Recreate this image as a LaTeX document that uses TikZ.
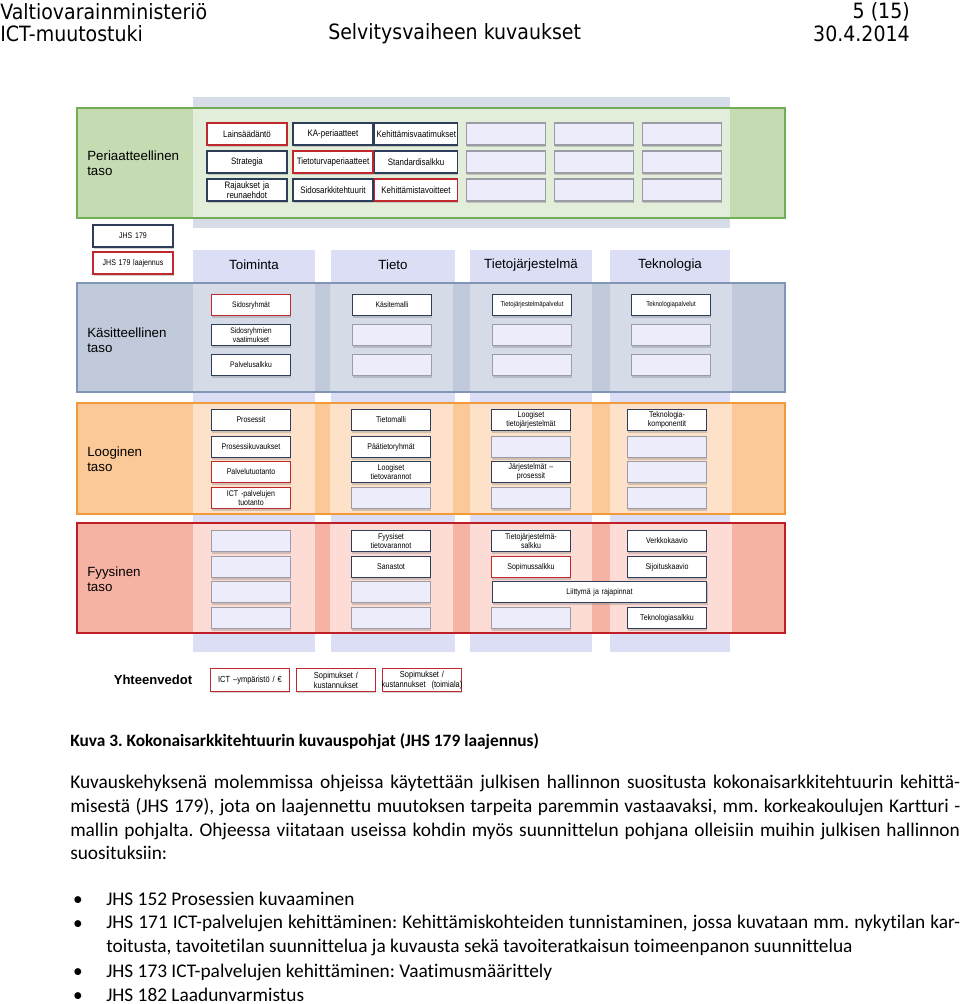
\documentclass[tikz,border=0pt]{standalone}
\usepackage{fontspec}
\setmainfont{Carlito}[Ligatures=CommonOff]
\newfontfamily\headfont[FakeStretch=0.9]{DejaVu Sans}
\newfontfamily\diafont{Liberation Sans}
\newfontfamily\boxfont[FakeStretch=0.85]{Liberation Sans}
\usetikzlibrary{shadows}
\frenchspacing

\definecolor{navyline}{HTML}{2E3D5A}
\definecolor{boxred}{HTML}{C0282D}
\definecolor{emptyfill}{HTML}{ECECFA}
\definecolor{emptyline}{HTML}{9C9CA6}
\definecolor{colfill}{HTML}{DCDEF6}
\definecolor{topband}{HTML}{D6DDE9}
\definecolor{greenline}{HTML}{72AD55}
\definecolor{greenfill}{HTML}{C5DCB3}
\definecolor{greenlight}{HTML}{E3EEDA}
\definecolor{blueline}{HTML}{8196B6}
\definecolor{bluefill}{HTML}{C0CADB}
\definecolor{bluelight}{HTML}{D5DBE7}
\definecolor{orangeline}{HTML}{F29A3A}
\definecolor{orangefill}{HTML}{FBC998}
\definecolor{orangelight}{HTML}{FDE2C9}
\definecolor{redline}{HTML}{C01E26}
\definecolor{redfill}{HTML}{F6B3A3}
\definecolor{redlight}{HTML}{FCDCD4}

\begin{document}
\begin{tikzpicture}[
    x=0.75pt,
    y=-0.75pt,
    headtext/.style={
        inner sep=0pt,
        font=\headfont\fontsize{15.8}{17}\selectfont
    },
    bodytext/.style={
        inner sep=0pt,
        font=\fontsize{14.5}{17.8}\selectfont
    },
    captext/.style={
        inner sep=0pt,
        font=\bfseries\fontsize{13}{17.8}\selectfont
    },
    rowlabel/.style={
        anchor=west,
        align=left,
        inner sep=0pt,
        font=\diafont\fontsize{10}{11.3}\selectfont
    },
    colhead/.style={
        inner sep=0pt,
        font=\diafont\fontsize{10}{12}\selectfont
    },
    tbox/.style={
        draw=navyline,
        fill=white,
        line width=0.8pt,
        text width=56pt,
        minimum height=16pt,
        inner xsep=1.5pt,
        inner ysep=0pt,
        align=center,
        font=\boxfont\fontsize{6.2}{7}\selectfont,
        drop shadow={shadow xshift=0.5pt, shadow yshift=-1.4pt, opacity=0.35}
    },
    rbox/.style={tbox, draw=boxred},
    ebox/.style={tbox, draw=emptyline, fill=emptyfill},
    pbox/.style={minimum height=16.5pt, font=\boxfont\fontsize{7}{7.6}\selectfont},
    kbox/.style={font=\boxfont\fontsize{6}{6.8}\selectfont},
    tinybox/.style={font=\boxfont\fontsize{5.3}{6}\selectfont},
    sumbox/.style={minimum height=17pt, font=\boxfont\fontsize{6.6}{7.4}\selectfont}
]

    % ==========================================
    % PAGE AND BACKGROUND
    % ==========================================

    \path[use as bounding box, fill=white] (0,0) rectangle (960,1004);

    % Header lines
    \node[headtext, anchor=west] (Ministerio) at (0,12) {Valtiovarainministeriö};
    \node[headtext, anchor=east] (PageNo) at (910,12) {5 (15)};
    \node[headtext, anchor=west] (Muutostuki) at (0,34) {ICT-muutostuki};
    \node[headtext, anchor=west] (DocTitle) at (328,34) {Selvitysvaiheen kuvaukset};
    \node[headtext, anchor=east] (DocDate) at (910,34) {30.4.2014};

    % Column strips behind the layers
    \fill[topband] (193,97) rectangle (730,228);
    \foreach \xa/\xb in {193/315, 331/455, 470/592, 610/730}
        \fill[colfill] (\xa,250) rectangle (\xb,652);

    % ==========================================
    % LAYERS
    % ==========================================

    % Periaatteellinen taso (green)
    \fill[greenfill] (77,108) rectangle (785,218);
    \fill[greenlight] (193,108) rectangle (730,218);
    \draw[greenline, line width=1.6pt] (77,108) rectangle (785,218);

    % Kasitteellinen taso (blue grey)
    \fill[bluefill] (77,283) rectangle (785,392);
    \foreach \xa/\xb in {193/315, 330/453, 470/592, 610/732}
        \fill[bluelight] (\xa,283) rectangle (\xb,392);
    \draw[blueline, line width=1.2pt] (77,283) rectangle (785,392);

    % Looginen taso (orange)
    \fill[orangefill] (77,403) rectangle (785,514);
    \foreach \xa/\xb in {193/315, 330/453, 470/592, 610/732}
        \fill[orangelight] (\xa,403) rectangle (\xb,514);
    \draw[orangeline, line width=1.6pt] (77,403) rectangle (785,514);

    % Fyysinen taso (red)
    \fill[redfill] (77,523) rectangle (785,633);
    \foreach \xa/\xb in {193/315, 330/453, 470/592, 610/732}
        \fill[redlight] (\xa,523) rectangle (\xb,633);
    \draw[redline, line width=1.6pt] (77,523) rectangle (785,633);

    % Layer labels
    \node[rowlabel] (PeriaateLabel) at (87,163) {Periaatteellinen\\taso};
    \node[rowlabel] (KasiteLabel) at (87,340) {Käsitteellinen\\taso};
    \node[rowlabel] (LoogLabel) at (87,459) {Looginen\\taso};
    \node[rowlabel] (FyysLabel) at (87,579) {Fyysinen\\taso};

    % Column headers
    \node[colhead] (Toiminta) at (254,265) {Toiminta};
    \node[colhead] (Tieto) at (393,265) {Tieto};
    \node[colhead] (Tietojarjestelma) at (531,265) {Tietojärjestelmä};
    \node[colhead] (Teknologia) at (670,265) {Teknologia};

    % ==========================================
    % BOXES
    % ==========================================

    % Periaatteellinen taso
    \node[rbox, pbox, text width=57pt] (Lainsaadanto) at (247,134) {Lainsäädäntö};
    \node[tbox, pbox, text width=57pt] (KaPeriaatteet) at (333,134) {KA-periaatteet};
    \node[tbox, pbox, text width=59pt] (KehVaatimukset) at (416,134) {Kehittämisvaatimukset};
    \node[tbox, pbox, text width=57pt] (Strategia) at (247,162) {Strategia};
    \node[rbox, pbox, text width=57pt] (TtPeriaatteet) at (333,162) {Tietoturvaperiaatteet};
    \node[tbox, pbox, text width=59pt] (Standardisalkku) at (416,162) {Standardisalkku};
    \node[tbox, pbox, text width=57pt] (Rajaukset) at (247,190) {Rajaukset ja\\reunaehdot};
    \node[tbox, pbox, text width=57pt] (Sidosarkkitehtuurit) at (333,190) {Sidosarkkitehtuurit};
    \node[rbox, pbox, text width=59pt] (KehTavoitteet) at (416,190) {Kehittämistavoitteet};
    \foreach \bx in {506,594,682}
        \foreach \by in {134,162,190}
            \node[ebox, pbox] (PEmpty-\bx-\by) at (\bx,\by) {};

    % JHS 179
    \node[tbox, text width=57pt, minimum height=16.5pt] (Jhs179) at (133,236) {JHS 179};
    \node[rbox, text width=57pt, minimum height=16.5pt] (Jhs179Ext) at (133,263) {JHS 179 laajennus};

    % Kasitteellinen taso
    \node[rbox, kbox] (Sidosryhmat) at (251,305) {Sidosryhmät};
    \node[tbox, kbox] (SidosVaatimukset) at (251,335) {Sidosryhmien\\vaatimukset};
    \node[tbox, kbox] (Palvelusalkku) at (251,365) {Palvelusalkku};
    \node[tbox, kbox] (Kasitemalli) at (392,305) {Käsitemalli};
    \node[tbox, tinybox] (TjPalvelut) at (532,305) {Tietojärjestelmäpalvelut};
    \node[tbox, tinybox] (TekPalvelut) at (671,305) {Teknologiapalvelut};
    \foreach \bx in {392,532,671}
        \foreach \by in {335,365}
            \node[ebox] (KEmpty-\bx-\by) at (\bx,\by) {};

    % Looginen taso
    \node[tbox] (Prosessit) at (251,420) {Prosessit};
    \node[tbox] (ProsKuvaukset) at (251,447) {Prosessikuvaukset};
    \node[rbox] (Palvelutuotanto) at (251,472) {Palvelutuotanto};
    \node[rbox] (IctTuotanto) at (251,498) {ICT -palvelujen\\tuotanto};
    \node[tbox] (Tietomalli) at (391,420) {Tietomalli};
    \node[tbox] (Paatietoryhmat) at (391,447) {Päätietoryhmät};
    \node[tbox] (LoogVarannot) at (391,472) {Loogiset\\tietovarannot};
    \node[tbox] (LoogJarjestelmat) at (531,420) {Loogiset\\tietojärjestelmät};
    \node[tbox] (JarjProsessit) at (531,472) {Järjestelmät –\\prosessit};
    \node[tbox] (TekKomponentit) at (667,420) {Teknologia-\\komponentit};
    \foreach \bx/\by in {391/498, 531/447, 531/498, 667/447, 667/472, 667/498}
        \node[ebox] (LEmpty-\bx-\by) at (\bx,\by) {};

    % Fyysinen taso
    \node[tbox] (FyysVarannot) at (391,541) {Fyysiset\\tietovarannot};
    \node[tbox] (Sanastot) at (391,567) {Sanastot};
    \node[tbox] (TjSalkku) at (531,541) {Tietojärjestelmä-\\salkku};
    \node[rbox] (Sopimussalkku) at (531,567) {Sopimussalkku};
    \node[tbox] (Verkkokaavio) at (667,541) {Verkkokaavio};
    \node[tbox] (Sijoituskaavio) at (667,567) {Sijoituskaavio};
    \node[tbox, text width=158pt] (Liittyma) at (599.5,592) {Liittymä ja rajapinnat};
    \node[tbox] (TekSalkku) at (667,618) {Teknologiasalkku};
    \foreach \bx/\by in {251/541, 251/567, 251/592, 251/618, 391/592, 391/618, 531/618}
        \node[ebox] (FEmpty-\bx-\by) at (\bx,\by) {};

    % Yhteenvedot
    \node[inner sep=0pt, font=\diafont\bfseries\fontsize{9.8}{12}\selectfont] (Yhteenvedot) at (153,680) {Yhteenvedot};
    \node[rbox, sumbox] (IctYmparisto) at (250,680) {ICT –ympäristö / €};
    \node[rbox, sumbox] (SopKustannukset) at (336,680) {Sopimukset /\\kustannukset};
    \node[rbox, sumbox] (SopToimiala) at (422,680) {Sopimukset /\\\makebox[56pt][c]{kustannukset~~(toimiala)}};

    % ==========================================
    % CAPTION AND TEXT
    % ==========================================

    \node[captext, anchor=base west] (Caption) at (70,746) {Kuva 3. Kokonaisarkkitehtuurin kuvauspohjat (JHS 179 laajennus)};

    \node[bodytext, anchor=north west, text width=667.5pt, align=justify] (Intro) at (70,775) {Kuvauskehyksenä molemmissa ohjeissa käytettään julkisen hallinnon suositusta kokonaisarkkitehtuurin kehittä-\linebreak misestä (JHS 179), jota on laajennettu muutoksen tarpeita paremmin vastaavaksi, mm. korkeakoulujen Kartturi -\linebreak mallin pohjalta. Ohjeessa viitataan useissa kohdin myös suunnittelun pohjana olleisiin muihin julkisen hallinnon\linebreak suosituksiin:};

    % Bullet list
    \foreach \by [count=\i] in {905, 929, 977, 1001}
        \node[bodytext, anchor=base] (Dot\i) at (78,\by) {•};
    \node[bodytext, anchor=base west] (Jhs152) at (106,905) {JHS 152 Prosessien kuvaaminen};
    \node[bodytext, anchor=north west, text width=640.5pt, align=justify] (Jhs171) at (106,915) {JHS 171 ICT-palvelujen kehittäminen: Kehittämiskohteiden tunnistaminen, jossa kuvataan mm. nykytilan kar-\linebreak toitusta, tavoitetilan suunnittelua ja kuvausta sekä tavoiteratkaisun toimeenpanon suunnittelua};
    \node[bodytext, anchor=base west] (Jhs173) at (106,977) {JHS 173 ICT-palvelujen kehittäminen: Vaatimusmäärittely};
    \node[bodytext, anchor=base west] (Jhs182) at (106,1001) {JHS 182 Laadunvarmistus};

\end{tikzpicture}
\end{document}
